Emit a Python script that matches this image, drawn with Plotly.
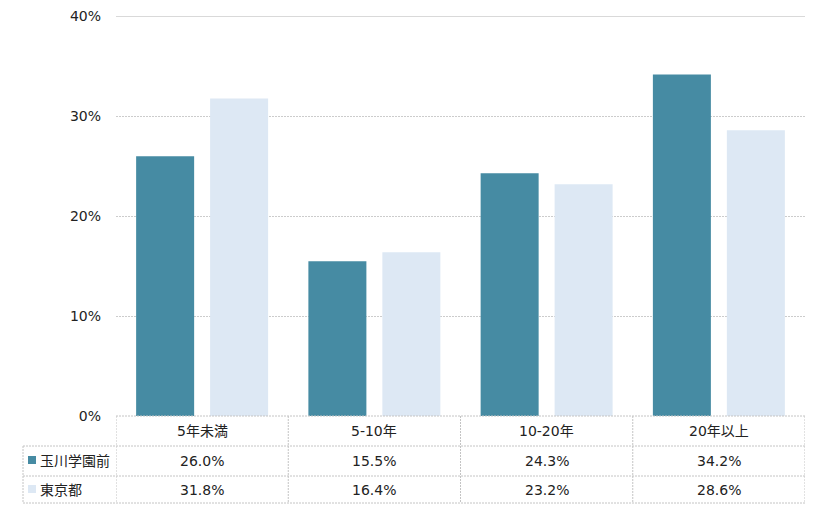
import plotly.graph_objects as go

categories = ["5年未満", "5-10年", "10-20年", "20年以上"]
series_names = ["玉川学園前", "東京都"]
tamagawa = [26.0, 15.5, 24.3, 34.2]
tokyo = [31.8, 16.4, 23.2, 28.6]
colors = ["#468BA3", "#DDE8F4"]
y_ticks = [0, 10, 20, 30, 40]
y_tick_labels = ["0%", "10%", "20%", "30%", "40%"]

FONT = "DejaVu Sans, Noto Sans CJK JP, sans-serif"
OFF = 8  # page body margin
W, H = 820 - OFF, 510 - OFF
ML, MR, MT, MB = 116 - OFF, 15, 16 - OFF, 94
PW, PH = W - ML - MR, H - MT - MB


def py(pix_y):
    return (H - MB - (pix_y - OFF)) / PH


def px(pix_x):
    return ((pix_x - OFF) - ML) / PW


fig = go.Figure()
xs = list(range(len(categories)))
for name, vals, col in zip(series_names, [tamagawa, tokyo], colors):
    fig.add_trace(go.Bar(x=xs, y=vals, name=name, marker_color=col,
                         marker_line_width=0, hoverinfo="skip"))

shapes = []
annotations = []
line_style = dict(color="#c4c4c4", width=1, dash="2px,1px")
left_x = 23
# solid top gridline
shapes.append(dict(type="line", xref="paper", yref="y", x0=0, x1=1,
                   y0=y_ticks[-1], y1=y_ticks[-1], line=dict(color="#d9d9d9", width=1),
                   layer="below"))
shapes.append(dict(type="line", xref="paper", yref="paper", x0=0, x1=1,
                   y0=py(416), y1=py(416), line=line_style))
for yy in [446, 476, 503]:
    shapes.append(dict(type="line", xref="paper", yref="paper", x0=px(left_x), x1=1,
                       y0=py(yy), y1=py(yy), line=line_style))
for i in range(len(categories) + 1):
    shapes.append(dict(type="line", xref="x", yref="paper", x0=i - 0.5, x1=i - 0.5,
                       y0=py(416), y1=py(503), line=line_style))
shapes.append(dict(type="line", xref="paper", yref="paper", x0=px(left_x), x1=px(left_x),
                   y0=py(446), y1=py(503), line=line_style))

tf = dict(family=FONT, size=14, color="#222222")
for i, c in enumerate(categories):
    annotations.append(dict(x=i, y=py(431), xref="x", yref="paper", text=c,
                            showarrow=False, yanchor="middle", font=tf))
    annotations.append(dict(x=i, y=py(461), xref="x", yref="paper",
                            text=f"{tamagawa[i]:.1f}%", showarrow=False,
                            yanchor="middle", font=tf))
    annotations.append(dict(x=i, y=py(490), xref="x", yref="paper",
                            text=f"{tokyo[i]:.1f}%", showarrow=False,
                            yanchor="middle", font=tf))

for name, col, yc in zip(series_names, colors, [460, 489]):
    shapes.append(dict(type="rect", xref="paper", yref="paper",
                       x0=px(28), x1=px(36), y0=py(yc + 4), y1=py(yc - 4),
                       fillcolor=col, line_width=0))
    annotations.append(dict(x=px(38), y=py(yc + 1), xref="paper", yref="paper", text=name,
                            showarrow=False, xanchor="left", yanchor="middle", font=tf))

fig.update_layout(
    width=W, height=H,
    margin=dict(l=ML, r=MR, t=MT, b=MB, autoexpand=False),
    paper_bgcolor="white", plot_bgcolor="white",
    barmode="group", bargap=0.141, bargroupgap=0.216,
    showlegend=False,
    shapes=shapes, annotations=annotations,
    font=dict(family=FONT, size=14, color="#222222"),
    xaxis=dict(range=[-0.5, len(categories) - 0.5], showticklabels=False,
               showgrid=False, zeroline=False, showline=False, fixedrange=True,
               automargin=False),
    yaxis=dict(range=[0, 40.05], tickvals=y_ticks, ticktext=y_tick_labels,
               showgrid=True, gridcolor="#cccccc", gridwidth=1, griddash="2px,1px",
               zeroline=False, showline=False, ticks="", ticklabelstandoff=14,
               tickfont=dict(family=FONT, size=14, color="#222222"), fixedrange=True,
               automargin=False),
)

fig.write_html("out.html")
